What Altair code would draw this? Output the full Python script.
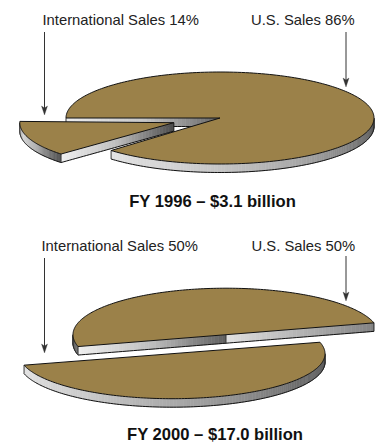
import math
import altair as alt

# Sales split per fiscal year
YEARS = ["FY 1996", "FY 2000"]
TOTALS = ["$3.1 billion", "$17.0 billion"]
INTERNATIONAL = [14, 50]
US = [86, 50]

TOP = "#9b8149"
INK = "#111111"
ARROW = "#333333"
DEPTH = 8.5
LEAN = 5.5  # degrees of perspective warp on slice angles
FONT = "Liberation Sans"


def warp(theta):
    return theta - LEAN * math.sin(math.radians(2 * theta))


def point(pie, theta):
    t = math.radians(warp(theta))
    return (pie["cx"] + pie["rx"] * math.cos(t), pie["cy"] + pie["ry"] * math.sin(t))


def drop(p, depth=DEPTH):
    return (p[0], p[1] + depth)


def arc(pie, lo, hi, n=90):
    return [point(pie, lo + (hi - lo) * i / n) for i in range(n + 1)]


def poly(pts, fill, stroke=None, width=0.6):
    ring = [list(p) for p in pts]
    if ring[0] != ring[-1]:
        ring.append(ring[0])
    return {
        "type": "Feature",
        "geometry": {"type": "Polygon", "coordinates": [ring]},
        "properties": {"fill": fill, "stroke": stroke or fill, "w": width},
    }


def line(pts, color=INK, width=1.0):
    return {
        "type": "Feature",
        "geometry": {"type": "LineString", "coordinates": [list(p) for p in pts]},
        "properties": {"fill": "transparent", "stroke": color, "w": width},
    }


def shade(stops, f):
    span = f * (len(stops) - 1)
    i = min(int(span), len(stops) - 2)
    u = span - i
    a, b = stops[i], stops[i + 1]
    v = round(a + (b - a) * u)
    return f"#{v:02x}{v:02x}{v:02x}"


def wall(top_edge, stops, depth=DEPTH):
    """Vertical side of a slice, shaded in thin strips, with its outline."""
    n = len(top_edge) - 1
    out = []
    for i in range(n):
        a, b = top_edge[i], top_edge[i + 1]
        out.append(poly([a, b, drop(b, depth), drop(a, depth)], shade(stops, (i + 0.5) / n), width=0.6))
    out.append(line([drop(p, depth) for p in top_edge]))
    out.append(line([top_edge[0], drop(top_edge[0], depth)], width=0.8))
    out.append(line([top_edge[-1], drop(top_edge[-1], depth)], width=0.8))
    return out


def chord(a, b, n=40):
    return [(a[0] + (b[0] - a[0]) * i / n, a[1] + (b[1] - a[1]) * i / n) for i in range(n + 1)]


def arrow(x, y0, y1):
    tip = (x, y1)
    return [
        line([(x, y0), (x, y1 - 5)], ARROW, 1.0),
        poly([tip, (x - 3, y1 - 9), (x, y1 - 7), (x + 3, y1 - 9)], ARROW, width=0.3),
    ]


def top_face(apex, rim):
    return poly([apex] + rim, TOP, INK, 1.0)


shapes = []

# FY 1996: the international slice pulled out of the main pie
main96 = dict(cx=220, cy=118, rx=154, ry=46)
cut_far = 180
cut_near = cut_far - 360 * INTERNATIONAL[0] / 100
apex96 = (main96["cx"], main96["cy"])
shapes += wall(chord(point(main96, cut_far), apex96), [238, 200, 100])
shapes += wall(arc(main96, cut_near, 0, 120), [228, 205, 170, 120, 85])
shapes.append(top_face(apex96, arc(main96, cut_far, cut_near + 360, 240)))

slice96 = dict(cx=173.8, cy=122.7, rx=154, ry=46)
s_lo, s_hi = cut_near + 2, cut_far + 2
apex_s = (slice96["cx"], slice96["cy"])
shapes += wall(arc(slice96, 180, s_lo, 60), [135, 215, 175, 80])
shapes += wall(chord(point(slice96, s_lo), apex_s), [240, 190, 75])
shapes.append(top_face(apex_s, arc(slice96, s_lo, s_hi, 60)))

# FY 2000: two halves split along a slightly tilted diameter
TILT = 162
upper = dict(cx=226, cy=334.7, rx=153, ry=46.5)
lower = dict(cx=172, cy=353.7, rx=153, ry=45)
sweep_u = 360 * US[1] / 100
sweep_l = 360 * INTERNATIONAL[1] / 100
apex_u = (upper["cx"], upper["cy"])
apex_l = (lower["cx"], lower["cy"])

shapes += wall(arc(upper, 180, TILT, 20), [85, 120])
shapes += wall(chord(point(upper, TILT), apex_u), [240, 190, 95])
shapes += wall(chord(apex_u, point(upper, TILT + sweep_u)), [225, 180, 130])
shapes.append(top_face(apex_u, arc(upper, TILT, TILT + sweep_u, 180)))

shapes += wall(arc(lower, TILT, 0, 150), [228, 205, 160, 110, 90])
shapes.append(top_face(apex_l, arc(lower, TILT - sweep_l, TILT, 180)))

# Callout arrows
shapes += arrow(44.5, 32, 115)
shapes += arrow(346, 32, 87)
shapes += arrow(44.5, 258, 353)
shapes += arrow(346, 256, 301)

labels = [
    {"x": 42.5, "y": 25, "t": f"International Sales {INTERNATIONAL[0]}%"},
    {"x": 251, "y": 25, "t": f"U.S. Sales {US[0]}%"},
    {"x": 41.5, "y": 251, "t": f"International Sales {INTERNATIONAL[1]}%"},
    {"x": 251.5, "y": 251, "t": f"U.S. Sales {US[1]}%"},
]
titles = [
    {"x": 212.5, "y": 206.5, "t": f"{YEARS[0]} – {TOTALS[0]}"},
    {"x": 215, "y": 440, "t": f"{YEARS[1]} – {TOTALS[1]}"},
]

IDENTITY = dict(type="identity", scale=1, translate=[0, 0])

shape_layer = (
    alt.Chart(alt.Data(values=shapes))
    .mark_geoshape()
    .encode(
        fill=alt.Fill("properties.fill:N", scale=None),
        stroke=alt.Stroke("properties.stroke:N", scale=None),
        strokeWidth=alt.StrokeWidth("properties.w:Q", scale=None),
    )
    .project(**IDENTITY)
)

label_layer = (
    alt.Chart(alt.Data(values=labels))
    .mark_text(font=FONT, fontSize=14.8, align="left", baseline="alphabetic", color="#222222")
    .encode(longitude="x:Q", latitude="y:Q", text="t:N")
    .project(**IDENTITY)
)

title_layer = (
    alt.Chart(alt.Data(values=titles))
    .mark_text(font=FONT, fontSize=16.6, fontWeight="bold", align="center", baseline="alphabetic", color="#111111")
    .encode(longitude="x:Q", latitude="y:Q", text="t:N")
    .project(**IDENTITY)
)

chart = (
    alt.layer(shape_layer, label_layer, title_layer)
    .properties(width=378, height=445, padding=0, autosize=alt.AutoSizeParams(type="none"), background="white")
    .configure_view(stroke=None)
)

chart.save("out.html", embed_options={"renderer": "svg", "actions": False})
